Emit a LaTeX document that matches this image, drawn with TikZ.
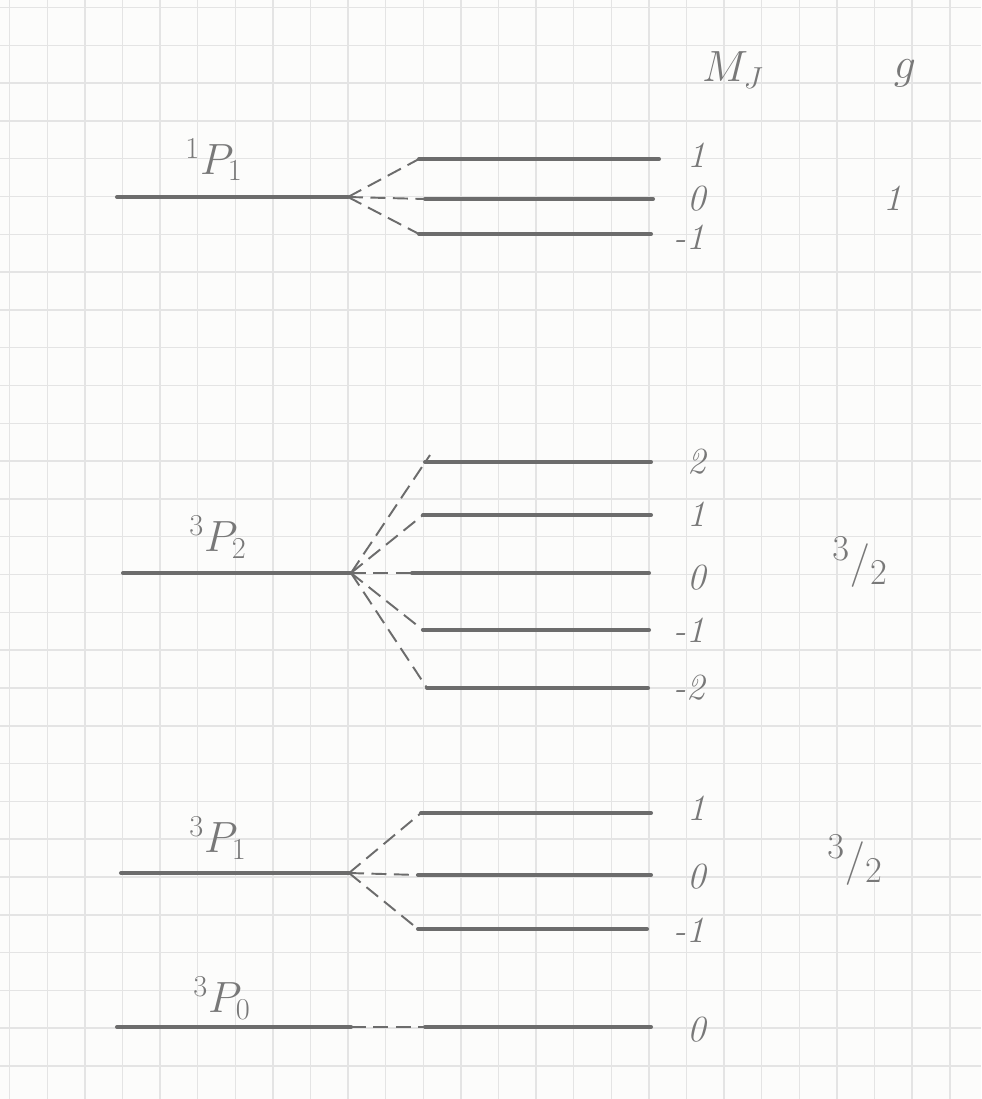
\documentclass[tikz,border=0pt]{standalone}
\usepackage{fontspec}
\begin{document}
\begin{tikzpicture}[x=0.02cm,y=-0.02cm,
  level/.style={draw=lvl,line width=2.3pt,line cap=round},
  split/.style={draw=lvl,line width=1.1pt,dash pattern=on 0.3cm off 0.15cm},
  lab/.style={text=ink,inner sep=0pt,font=\fontsize{24}{28}\selectfont},
  mj/.style={text=ink,inner sep=0pt,font=\fontsize{21}{25}\selectfont\itshape},
  gfrac/.style={text=ink,inner sep=0pt,font=\fontsize{32}{36}\selectfont},
]
\definecolor{lvl}{RGB}{108,108,108}
\definecolor{ink}{RGB}{120,120,120}
\definecolor{gridc}{RGB}{228,228,228}
\definecolor{paper}{RGB}{252,252,251}
\useasboundingbox (0,0) rectangle (981,1099);
\fill[paper] (0,0) rectangle (981,1099);
% grid paper
\foreach \k in {-1,...,24} {\draw[gridc,line width=0.9pt] ({47.3+37.6*\k},0) -- ({47.3+37.6*\k},1099);}
\foreach \k in {-1,...,28} {\draw[gridc,line width=0.9pt] (0,{45.3+37.8*\k}) -- (981,{45.3+37.8*\k});}

% headers
\node[lab] (hMJ) at (733,70) {$M_J$};
\node[lab] (hg) at (905,73) {$g$};

% ---- 1P1 ----
\coordinate (aL) at (117,197); \coordinate (aR) at (348,197);
\coordinate (a1L) at (419,159); \coordinate (a1R) at (659,159);
\coordinate (a0L) at (425,199); \coordinate (a0R) at (653,199);
\coordinate (amL) at (419,234); \coordinate (amR) at (651,234);
\draw[level] (aL) -- (aR);
\draw[level] (a1L) -- (a1R);
\draw[level] (a0L) -- (a0R);
\draw[level] (amL) -- (amR);
\draw[split] (aR) -- (a1L);
\draw[split] (aR) -- (a0L);
\draw[split] (aR) -- (amL);
\node[lab] (tA) at (214,160) {$^{1}P_{1}$};
\node[mj] (a1) at (697,155) {1};
\node[mj] (a0) at (697,199) {0};
\node[mj] (am) at (689,237) {-1};
\node[mj] (ga) at (893,198) {1};

% ---- 3P2 ----
\coordinate (bL) at (123,573); \coordinate (bR) at (351,573);
\coordinate (b2L) at (425,462); \coordinate (b2R) at (651,462);
\coordinate (b1L) at (423,515); \coordinate (b1R) at (651,515);
\coordinate (b0L) at (412,573); \coordinate (b0R) at (649,573);
\coordinate (bmL) at (423,630); \coordinate (bmR) at (649,630);
\coordinate (bnL) at (427,688); \coordinate (bnR) at (648,688);
\coordinate (b2t) at (430,455);
\draw[level] (bL) -- (bR);
\draw[level] (b2L) -- (b2R);
\draw[level] (b1L) -- (b1R);
\draw[level] (b0L) -- (b0R);
\draw[level] (bmL) -- (bmR);
\draw[level] (bnL) -- (bnR);
\draw[split] (bR) -- (b2t);
\draw[split] (bR) -- (b1L);
\draw[split] (bR) -- (b0L);
\draw[split] (bR) -- (bmL);
\draw[split] (bR) -- (bnL);
\node[lab] (tB) at (218,537) {$^{3}P_{2}$};
\node[mj] (b2) at (697,462) {2};
\node[mj] (b1) at (697,514) {1};
\node[mj] (b0) at (697,578) {0};
\node[mj] (bm) at (689,630) {-1};
\node[mj] (bn) at (689,688) {-2};
\node[gfrac] (gb) at (860,562) {$^{3}/_{2}$};

% ---- 3P1 ----
\coordinate (cL) at (121,873); \coordinate (cR) at (349,873);
\coordinate (c1L) at (421,813); \coordinate (c1R) at (651,813);
\coordinate (c0L) at (418,875); \coordinate (c0R) at (651,875);
\coordinate (cmL) at (418,929); \coordinate (cmR) at (647,929);
\draw[level] (cL) -- (cR);
\draw[level] (c1L) -- (c1R);
\draw[level] (c0L) -- (c0R);
\draw[level] (cmL) -- (cmR);
\draw[split] (cR) -- (c1L);
\draw[split] (cR) -- (c0L);
\draw[split] (cR) -- (cmL);
\node[lab] (tC) at (218,838) {$^{3}P_{1}$};
\node[mj] (c1) at (697,808) {1};
\node[mj] (c0) at (697,877) {0};
\node[mj] (cm) at (689,930) {-1};
\node[gfrac] (gc) at (855,860) {$^{3}/_{2}$};

% ---- 3P0 ----
\coordinate (dL) at (117,1027); \coordinate (dR) at (351,1027);
\coordinate (d0L) at (425,1027); \coordinate (d0R) at (651,1027);
\draw[level] (dL) -- (dR);
\draw[level] (d0L) -- (d0R);
\draw[split] (dR) -- (d0L);
\node[lab] (tD) at (222,998) {$^{3}P_{0}$};
\node[mj] (d0) at (697,1030) {0};
\end{tikzpicture}
\end{document}
